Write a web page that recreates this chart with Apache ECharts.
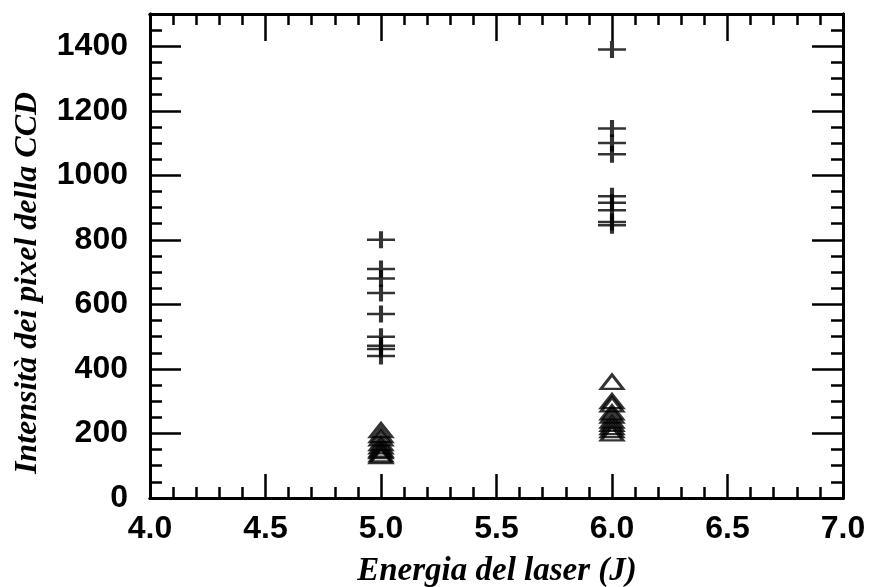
<!DOCTYPE html>
<html>
<head>
<meta charset="utf-8">
<script src="https://cdn.jsdelivr.net/npm/echarts@6/dist/echarts.min.js"></script>
<style>
  html, body { margin: 0; padding: 0; background: #fff; }
  #chart { width: 874px; height: 587px; }
</style>
</head>
<body>
<div id="chart"></div>
<script>
// Laser energy (J) at which each set of shots was taken
const energies = [5.0, 6.0];
// CCD pixel intensities, "+" series
const plusAt5 = [800, 710, 680, 635, 570, 500, 472, 462, 440];
const plusAt6 = [1390, 1145, 1100, 1065, 935, 915, 892, 855, 845];
// CCD pixel intensities, triangle series
const triAt5 = [210, 195, 185, 170, 160, 150, 145, 135, 130];
const triAt6 = [360, 300, 290, 265, 255, 240, 230, 220, 210, 200];

// Axis ranges and ticks
const xMin = 4.0, xMax = 7.0, xStep = 0.5, xMinorStep = 0.1;
const yMin = 0, yMax = 1500, yStep = 200, yMinorStep = 50;

const xTitle = 'Energia del laser (J)';
const yTitle = 'Intensità dei pixel della CCD';

const pairs = (x, vals) => vals.map(v => [x, v]);

const labelFont = { fontFamily: 'Liberation Sans', fontSize: 32, fontWeight: 'bold', color: '#000' };
const lineStyle = { color: '#000', width: 3 };

function xAxisDef(pos, step, len, showLabel) {
  return {
    type: 'value', position: pos, min: xMin, max: xMax, interval: step,
    axisLine: { show: true, onZero: false, lineStyle },
    axisTick: { show: true, inside: true, length: len, lineStyle: { color: '#000', width: 2.5 } },
    splitLine: { show: false },
    axisLabel: showLabel ? Object.assign({ show: true, margin: 15, formatter: v => v.toFixed(1) }, labelFont) : { show: false }
  };
}
function yAxisDef(pos, step, len, showLabel) {
  return {
    type: 'value', position: pos, min: yMin, max: yMax, interval: step,
    axisLine: { show: true, onZero: false, lineStyle },
    axisTick: { show: true, inside: true, length: len, lineStyle: { color: '#000', width: 2.5 } },
    splitLine: { show: false },
    axisLabel: showLabel ? Object.assign({
      show: true, margin: 22, showMaxLabel: false, padding: [7, 0, 0, 0],
      formatter: v => String(v)
    }, labelFont) : { show: false }
  };
}

const plusSymbol = 'path://M0,5L10,5M5,0L5,10';
const plusStyle = { color: 'rgba(0,0,0,0)', borderColor: '#000', borderWidth: 3.2 };
const triStyle = { color: 'rgba(0,0,0,0)', borderColor: '#000', borderWidth: 2.8 };

const chart = echarts.init(document.getElementById('chart'), null, { renderer: 'canvas' });
chart.setOption({
  animation: false,
  backgroundColor: '#fff',
  grid: { left: 150, right: 31, top: 14, bottom: 89 },
  xAxis: [
    xAxisDef('bottom', xStep, 24, true),
    xAxisDef('bottom', xMinorStep, 11, false),
    xAxisDef('top', xStep, 27, false),
    xAxisDef('top', xMinorStep, 11, false)
  ],
  yAxis: [
    yAxisDef('left', yStep, 31, true),
    yAxisDef('left', yMinorStep, 12, false),
    yAxisDef('right', yStep, 31, false),
    yAxisDef('right', yMinorStep, 12, false)
  ],
  graphic: [
    {
      type: 'text', x: 497, y: 571,
      style: {
        text: xTitle, font: 'italic bold 33px "Liberation Serif"', fill: '#000',
        align: 'center', verticalAlign: 'middle'
      }
    },
    {
      type: 'text', x: 28, y: 283, rotation: Math.PI / 2,
      style: {
        text: yTitle, font: 'italic bold 32px "Liberation Serif"', fill: '#000',
        align: 'center', verticalAlign: 'middle'
      }
    }
  ],
  series: [
    {
      type: 'scatter', symbol: plusSymbol, symbolSize: [28, 17], symbolKeepAspect: false,
      itemStyle: plusStyle,
      data: pairs(energies[0], plusAt5).concat(pairs(energies[1], plusAt6))
    },
    {
      type: 'scatter', symbol: 'triangle', symbolSize: [22, 14],
      itemStyle: triStyle,
      data: pairs(energies[0], triAt5).concat(pairs(energies[1], triAt6))
    }
  ]
});
</script>
</body>
</html>
